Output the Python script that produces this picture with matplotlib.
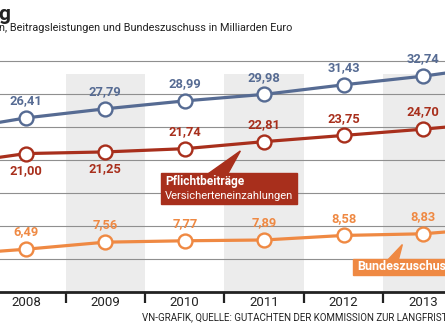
import matplotlib.pyplot as plt
import numpy as np

# Jahre (2007 und 2014 nur angeschnitten am Rand)
jahre = [2007, 2008, 2009, 2010, 2011, 2012, 2013, 2014]
gesamt = [24.4, 26.41, 27.79, 28.99, 29.98, 31.43, 32.74, 34.4]
pflicht = [19.3, 21.00, 21.25, 21.74, 22.81, 23.75, 24.70, 25.8]
bund = [5.6, 6.49, 7.56, 7.77, 7.89, 8.58, 8.83, 9.8]

jahr_labels = ['2008', '2009', '2010', '2011', '2012', '2013']
schattiert = [2009, 2011, 2013]

blau = '#566b93'
rot = '#a82f1c'
orange = '#ef8943'
schwarz = '#222222'

plt.rcParams['font.family'] = ['Roboto', 'DejaVu Sans']

fig = plt.figure(figsize=(4.45, 3.34), dpi=100)
ax = fig.add_axes([0, 42/334, 1, 236/334])
ax.set_xlim(2007.673, 2013.277)
ax.set_ylim(0, 35.8)

# graue Spalten
for j in schattiert:
    ax.fill_between([j - 0.5, j + 0.5], 0, 33, color='#ececec', lw=0, zorder=0)

# Gitterlinien
for g in range(5, 40, 5):
    ax.axhline(g, color='#8f8f8f', lw=0.8, zorder=1)

def zeichne(werte, farbe, unten=()):
    ax.plot(jahre, werte, color=farbe, lw=2.3, zorder=3, solid_capstyle='butt')
    ax.plot(jahre[1:-1], werte[1:-1], 'o', ms=10, mfc='white', mec=farbe,
            mew=1.7, zorder=4)
    for j, w in zip(jahre[1:-1], werte[1:-1]):
        txt = f'{w:.2f}'.replace('.', ',')
        dy = -2.6 if j in unten else 2.6
        ax.text(j, w + dy, txt, color=farbe, ha='center', va='center',
                fontsize=9.3, fontweight='bold', zorder=5)

zeichne(gesamt, blau)
zeichne(pflicht, rot, unten=(2008, 2009))
zeichne(bund, orange)

# Beschriftungskästen mit Zeiger
ax.add_patch(plt.Rectangle((2009.70, 13.33), 1.71, 4.7, color=rot, zorder=6))
ax.add_patch(plt.Polygon([(2010.29, 17.9), (2010.54, 17.9), (2010.70, 21.4)],
                         color=rot, zorder=6))
ax.text(2009.75, 16.75, 'Pflichtbeiträge', color='white', fontsize=8.6,
        fontweight='bold', va='center', zorder=7)
ax.text(2009.75, 14.6, 'Versicherteneinzahlungen', color='white', fontsize=8,
        va='center', zorder=7)

ax.add_patch(plt.Rectangle((2012.12, 2.6), 1.3, 2.45, color=orange, zorder=6,
                           clip_on=False))
ax.add_patch(plt.Polygon([(2012.56, 4.9), (2012.69, 4.9), (2012.74, 7.2)],
                         color=orange, zorder=6))
ax.text(2012.17, 3.8, 'Bundeszuschuss', color='white', fontsize=9,
        fontweight='bold', va='center', zorder=7)

# Achse unten
for s in ['top', 'left', 'right']:
    ax.spines[s].set_visible(False)
ax.spines['bottom'].set_linewidth(2)
ax.spines['bottom'].set_color(schwarz)
ax.set_yticks([])
ax.set_xticks([j + 0.5 for j in jahre[1:-2]])
ax.set_xticklabels([])
ax.tick_params(axis='x', length=8, width=1.6, color=schwarz, direction='out')
for j, lab in zip(jahre[1:-1], jahr_labels):
    ax.text(j, -1.65, lab, ha='center', va='center', fontsize=9.5, color=schwarz)

fig.text(-0.003, 0.985, 'g', fontsize=15, fontweight='bold', va='top',
         color=schwarz)
fig.text(-0.003, 0.915, 'n, Beitragsleistungen und Bundeszuschuss in Milliarden Euro',
         fontsize=7.8, va='center', color=schwarz)
fig.text(0.319, 0.051, 'VN-GRAFIK, QUELLE: GUTACHTEN DER KOMMISSION ZUR LANGFRISTIGEN',
         fontsize=7, va='center', color=schwarz)

fig.savefig('out.png', dpi=100)
